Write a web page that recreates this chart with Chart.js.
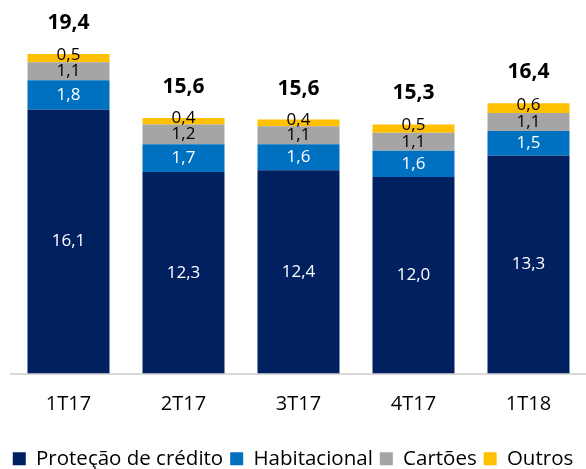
<!DOCTYPE html>
<html>
<head>
<meta charset="utf-8">
<script src="https://cdn.jsdelivr.net/npm/chart.js@4.4.1/dist/chart.umd.min.js"></script>
<style>
  html, body { margin: 0; padding: 0; background: #fff; }
  #wrap { width: 586px; height: 469px; position: relative; }
</style>
</head>
<body>
<div id="wrap"><canvas id="myChart"></canvas></div>
<script>
// quarters
var categories = ["1T17", "2T17", "3T17", "4T17", "1T18"];
// series values (R$ bi)
var protecaoCredito = [16.1, 12.3, 12.4, 12.0, 13.3];
var habitacional = [1.8, 1.7, 1.6, 1.6, 1.5];
var cartoes = [1.1, 1.2, 1.1, 1.1, 1.1];
var outros = [0.5, 0.4, 0.4, 0.5, 0.6];
// totals shown above the bars
var totais = [19.4, 15.6, 15.6, 15.3, 16.4];

var FONT = "'Open Sans', sans-serif";

function fmt(v) {
  return v.toFixed(1).replace(".", ",");
}

// draws the values inside the segments and the totals on top
var labelPlugin = {
  id: "labelPlugin",
  afterDatasetsDraw: function (chart) {
    var ctx = chart.ctx;
    ctx.save();
    ctx.textAlign = "center";
    ctx.textBaseline = "middle";
    chart.data.datasets.forEach(function (ds, i) {
      var meta = chart.getDatasetMeta(i);
      meta.data.forEach(function (bar, j) {
        var y = (bar.y + bar.base) / 2;
        if (i == 3) y = y - 3;
        ctx.font = "17px " + FONT;
        ctx.fillStyle = i < 2 ? "#ffffff" : "#000000";
        ctx.fillText(fmt(ds.data[j]), bar.x, y);
      });
    });
    //totals
    var topMeta = chart.getDatasetMeta(chart.data.datasets.length - 1);
    topMeta.data.forEach(function (bar, j) {
      ctx.font = "bold 21px " + FONT;
      ctx.fillStyle = "#000000";
      ctx.fillText(fmt(totais[j]), bar.x, bar.y - 31);
    });
    ctx.restore();
  }
};

var ctx = document.getElementById("myChart").getContext("2d");
var myChart = new Chart(ctx, {
  type: "bar",
  data: {
    labels: categories,
    datasets: [
      { label: "Proteção de crédito", data: protecaoCredito, backgroundColor: "#002060" },
      { label: "Habitacional", data: habitacional, backgroundColor: "#0070C0" },
      { label: "Cartões", data: cartoes, backgroundColor: "#A5A5A5" },
      { label: "Outros", data: outros, backgroundColor: "#FFC000" }
    ]
  },
  options: {
    responsive: true,
    maintainAspectRatio: false,
    animation: false,
    datasets: {
      bar: {
        barPercentage: 0.713,
        categoryPercentage: 1.0,
        borderWidth: 0
      }
    },
    // negative sides give the legend a little more room
    layout: {
      padding: { left: -6, right: -6, top: 0, bottom: -10 }
    },
    plugins: {
      legend: {
        position: "bottom",
        labels: {
          boxWidth: 13,
          boxHeight: 13,
          padding: 7,
          color: "#000000",
          font: { size: 20.5, family: FONT }
        }
      },
      tooltip: { enabled: false }
    },
    scales: {
      x: {
        stacked: true,
        grid: { display: false, drawTicks: false },
        border: { color: "#D9D9D9", width: 2 },
        ticks: {
          color: "#000000",
          padding: 19,
          font: { size: 20, family: FONT }
        },
        afterFit: function (scale) {
          scale.height = 68;
        }
      },
      y: {
        stacked: true,
        display: true,
        min: 0,
        max: 22.8,
        grid: { display: false, drawTicks: false },
        border: { display: false },
        ticks: { display: false },
        afterFit: function (scale) {
          scale.width = 17;
        }
      }
    }
  },
  plugins: [labelPlugin]
});
</script>
</body>
</html>
